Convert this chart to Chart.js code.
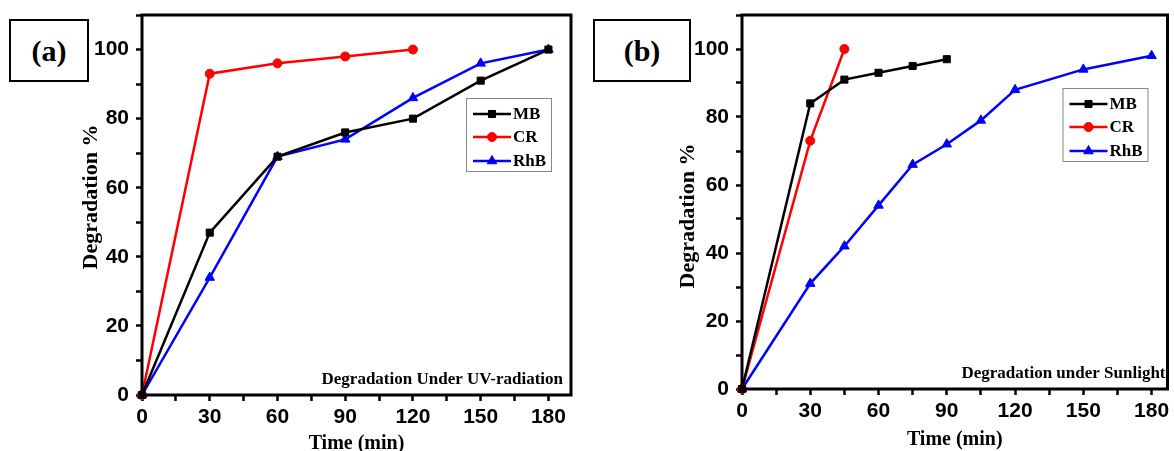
<!DOCTYPE html>
<html>
<head>
<meta charset="utf-8">
<script src="https://cdn.jsdelivr.net/npm/chart.js@4.4.1/dist/chart.umd.min.js"></script>
<style>
  body { margin: 0; background: #fff; }
  #wrap { position: relative; width: 1174px; height: 451px; overflow: hidden; }
  canvas { position: absolute; top: 0; }
  .tag {
    position: absolute; border: 2px solid #000; box-sizing: border-box;
    font: bold 30px "Liberation Serif", "Times New Roman", serif;
    display: flex; align-items: center; justify-content: center; background: #fff;
  }
</style>
</head>
<body>
<div id="wrap">
  <canvas id="chartA" width="590" height="451" style="left:0"></canvas>
  <canvas id="chartB" width="584" height="451" style="left:590px"></canvas>
  <div class="tag" style="left:9px;top:19px;width:80px;height:63px">(a)</div>
  <div class="tag" style="left:593px;top:19px;width:98px;height:63px">(b)</div>
</div>
<script>
// Panel (a) - UV radiation
const timeA = [0, 30, 60, 90, 120, 150, 180];
const timeCrA = [0, 30, 60, 90, 120];
const mbA = [0, 47, 69, 76, 80, 91, 100];
const crA = [0, 93, 96, 98, 100];
const rhbA = [0, 34, 69, 74, 86, 96, 100];

// Panel (b) - sunlight
const timeMbB = [0, 30, 45, 60, 75, 90];
const timeCrB = [0, 30, 45];
const timeRhbB = [0, 30, 45, 60, 75, 90, 105, 120, 150, 180];
const mbB = [0, 84, 91, 93, 95, 97];
const crB = [0, 73, 100];
const rhbB = [0, 31, 42, 54, 66, 72, 79, 88, 94, 98];

const xTicks = [0, 30, 60, 90, 120, 150, 180];
const yTicks = [0, 20, 40, 60, 80, 100];

const tickFont = { family: '"Liberation Sans Narrow", "Liberation Sans", Arial, sans-serif', size: 21, weight: 'bold' };
const serif = '"Liberation Serif", "Times New Roman", serif';

function pts(xs, ys) {
  return xs.map((x, i) => ({ x: x, y: ys[i] }));
}

function serie(label, xs, ys, color, style, r) {
  return {
    label: label,
    data: pts(xs, ys),
    borderColor: color,
    backgroundColor: color,
    borderWidth: 2.5,
    pointStyle: style,
    pointRadius: r,
    pointBorderWidth: 1,
    clip: false
  };
}

// frame, y title, legend box and the note in the corner
const extras = {
  id: 'extras',
  afterDraw(chart, args, opts) {
    const ctx = chart.ctx;
    const a = chart.chartArea;
    ctx.save();
    ctx.strokeStyle = '#000';
    ctx.lineWidth = 3;
    ctx.strokeRect(a.left, a.top, a.right - a.left, a.bottom - a.top);

    // y title
    ctx.save();
    ctx.translate(opts.yTitleX, opts.yTitleY);
    ctx.rotate(-Math.PI / 2);
    ctx.fillStyle = '#000';
    ctx.font = 'bold 22px ' + serif;
    ctx.textAlign = 'center';
    ctx.textBaseline = 'middle';
    ctx.fillText('Degradation %', 0, 0);
    ctx.restore();

    // note
    ctx.fillStyle = '#000';
    ctx.font = 'bold 17px ' + serif;
    ctx.textAlign = 'right';
    ctx.textBaseline = 'middle';
    ctx.fillText(opts.note, a.right - opts.noteInset, a.bottom - 15);

    // legend
    const bx = a.right - 105, by = a.top + opts.legendTop, bw = 85, bh = 73;
    ctx.fillStyle = '#fff';
    ctx.fillRect(bx, by, bw, bh);
    ctx.strokeStyle = '#888';
    ctx.lineWidth = 1;
    ctx.strokeRect(bx + 0.5, by + 0.5, bw, bh);
    const rows = [16, 39, 63];
    chart.data.datasets.forEach((ds, i) => {
      const y = by + rows[i];
      ctx.strokeStyle = ds.borderColor;
      ctx.fillStyle = ds.borderColor;
      ctx.lineWidth = 2.5;
      ctx.beginPath();
      ctx.moveTo(bx + 7, y);
      ctx.lineTo(bx + 45, y);
      ctx.stroke();
      ctx.lineWidth = 1;
      Chart.helpers.drawPoint(ctx, { pointStyle: ds.pointStyle, radius: ds.pointRadius, rotation: 0, borderWidth: 1 }, bx + 26, y);
      ctx.fillStyle = '#000';
      ctx.font = 'bold 17px ' + serif;
      ctx.textAlign = 'left';
      ctx.fillText(ds.label, bx + 47, y + 1);
    });
    ctx.restore();
  }
};

function makeChart(id, datasets, geo, note) {
  return new Chart(document.getElementById(id), {
    type: 'line',
    data: { datasets: datasets },
    plugins: [extras],
    options: {
      responsive: false,
      animation: false,
      layout: { padding: { left: 0, top: 15, right: geo.padRight, bottom: 0 } },
      plugins: {
        legend: { display: false },
        tooltip: { enabled: false },
        extras: {
          note: note, noteInset: geo.noteInset, legendTop: geo.legendTop,
          yTitleX: geo.yTitleX, yTitleY: geo.yTitleY
        }
      },
      scales: {
        x: {
          type: 'linear',
          min: 0,
          max: geo.xMax,
          afterFit: s => { s.height = geo.xHeight; s.paddingLeft = 0; s.paddingRight = 0; },
          border: { display: false },
          grid: { drawOnChartArea: false, tickLength: 6, tickWidth: 2.5, tickColor: '#000' },
          ticks: {
            stepSize: 15,
            includeBounds: false,
            autoSkip: false,
            maxRotation: 0,
            padding: 4,
            color: '#000',
            font: tickFont,
            callback: v => xTicks.includes(v) ? String(v) : ''
          },
          title: {
            display: true,
            text: 'Time (min)',
            color: '#000',
            font: { family: serif, size: 20, weight: 'bold', lineHeight: 1 },
            padding: { top: 0, bottom: geo.xTitlePad }
          }
        },
        y: {
          min: 0,
          max: 110,
          afterFit: s => { s.width = geo.yWidth; s.paddingTop = 0; s.paddingBottom = 0; },
          border: { display: false },
          grid: { drawOnChartArea: false, tickLength: 6, tickWidth: 2.5, tickColor: '#000' },
          ticks: {
            stepSize: 10,
            autoSkip: false,
            padding: 7,
            color: '#000',
            font: tickFont,
            callback: v => yTicks.includes(v) ? String(v) : ''
          }
        }
      }
    }
  });
}

makeChart('chartA', [
  serie('MB', timeA, mbA, '#000000', 'rect', 5),
  serie('CR', timeCrA, crA, '#ff0000', 'circle', 4.5),
  serie('RhB', timeA, rhbA, '#0000ff', 'triangle', 5.5)
], { xMax: 190, padRight: 19, xHeight: 56, yWidth: 142, xTitlePad: -3, noteInset: 8, legendTop: 83, yTitleX: 91, yTitleY: 197 },
'Degradation Under UV-radiation');

makeChart('chartB', [
  serie('MB', timeMbB, mbB, '#000000', 'rect', 5),
  serie('CR', timeCrB, crB, '#ff0000', 'circle', 4.5),
  serie('RhB', timeRhbB, rhbB, '#0000ff', 'triangle', 5.5)
], { xMax: 187, padRight: 6, xHeight: 62, yWidth: 152, xTitlePad: 1, noteInset: 2, legendTop: 73, yTitleX: 98, yTitleY: 216 },
'Degradation under Sunlight');
</script>
</body>
</html>
